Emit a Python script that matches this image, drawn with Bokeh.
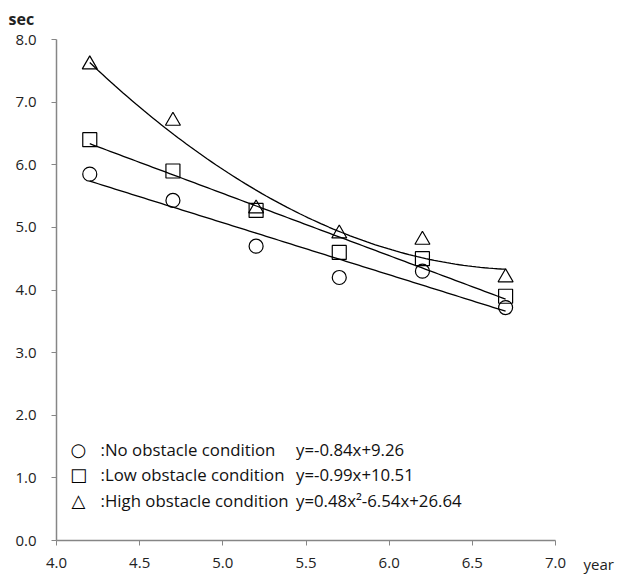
import numpy as np
from bokeh.plotting import figure
from bokeh.models import Range1d, Label, FixedTicker, NumeralTickFormatter
from bokeh.embed import file_html
from bokeh.resources import INLINE

age = [4.2, 4.7, 5.2, 5.7, 6.2, 6.7]
no_obstacle = [5.85, 5.43, 4.70, 4.20, 4.30, 3.72]
low_obstacle = [6.40, 5.90, 5.27, 4.60, 4.50, 3.90]
high_obstacle = [7.60, 6.70, 5.30, 4.90, 4.80, 4.20]
x_ticks = [4.0, 4.5, 5.0, 5.5, 6.0, 6.5, 7.0]
y_ticks = [0, 1, 2, 3, 4, 5, 6, 7, 8]
legend_symbols = ["\u25cb", "\u25a1", "\u25b3"]
legend_names = [":No obstacle condition", ":Low obstacle condition", ":High obstacle condition"]
legend_equations = ["y=-0.84x+9.26", "y=-0.99x+10.51", "y=0.48x\u00b2-6.54x+26.64"]

FONT = "Open Sans"

# The frame covers the whole canvas; axes sit at fixed locations and are bounded to the data area.
W, H = 619, 574
LEFT, TOP, BOTTOM_AXIS = 56.0, 39.0, 540.0
X_PX = 499.0 / 3.0      # pixels per year
Y_PX = 501.0 / 8.0      # pixels per second


def px_x(px):
    return 4.0 + (px - LEFT) / X_PX


def px_y(py):
    return (BOTTOM_AXIS - py) / Y_PX


p = figure(width=W, height=H, output_backend="svg", toolbar_location=None,
           x_range=Range1d(px_x(0), px_x(W)), y_range=Range1d(px_y(H), px_y(0)),
           min_border_left=0, min_border_right=0, min_border_top=0, min_border_bottom=0)
p.outline_line_color = None
p.xgrid.visible = False
p.ygrid.visible = False
p.background_fill_color = "white"
p.border_fill_color = "white"

for ax, ticks, b in ((p.xaxis[0], x_ticks, (4.0, 7.0)), (p.yaxis[0], y_ticks, (0.0, 8.0))):
    ax.ticker = FixedTicker(ticks=ticks)
    ax.formatter = NumeralTickFormatter(format="0.0")
    ax.bounds = b
    ax.axis_line_color = "#868686"
    ax.axis_line_width = 1.5
    ax.major_tick_line_color = "#868686"
    ax.major_tick_in = 0
    ax.major_tick_out = 5
    ax.minor_tick_line_color = None
    ax.major_label_text_font = FONT
    ax.major_label_text_font_size = "15px"
    ax.major_label_text_color = "#222222"
p.xaxis[0].fixed_location = 0.0
p.yaxis[0].fixed_location = 4.0
p.yaxis[0].major_label_standoff = 15
p.xaxis[0].major_label_standoff = 12

# trend lines fitted from the data
xs = np.linspace(age[0], age[-1], 100)
c_no = np.polyfit(age, no_obstacle, 1)
c_low = np.polyfit(age, low_obstacle, 1)
c_high = np.polyfit(age, high_obstacle, 2)
for c in (c_no, c_low, c_high):
    p.line(xs, np.polyval(c, xs), line_color="black", line_width=1.3)

p.scatter(age, no_obstacle, marker="circle", size=14, fill_color=None, line_color="black", line_width=1.2)
p.scatter(age, low_obstacle, marker="square", size=14, fill_color=None, line_color="black", line_width=1.2)
p.scatter(age, high_obstacle, marker="triangle", size=15, fill_color=None, line_color="black", line_width=1.2)

p.add_layout(Label(x=px_x(8), y=px_y(18), text="sec", text_font=FONT, text_font_size="16px",
                   text_font_style="bold", text_color="#222222", text_baseline="middle"))
p.add_layout(Label(x=px_x(583), y=px_y(563), text="year", text_font=FONT,
                   text_font_size="15px", text_color="#222222", text_baseline="middle"))

ys = [1.45, 1.05, 0.64]
for sym, name, eq, yy in zip(legend_symbols, legend_names, legend_equations, ys):
    p.add_layout(Label(x=4.132, y=yy, text=sym, text_font="DejaVu Sans", text_font_size="18px",
                       text_font_style="bold", text_color="black", text_baseline="middle",
                       text_align="center"))
    p.add_layout(Label(x=4.265, y=yy, text=name, text_font=FONT, text_font_size="16.8px",
                       text_color="#111111", text_baseline="middle"))
    p.add_layout(Label(x=5.44, y=yy, text=eq, text_font=FONT, text_font_size="16.8px",
                       text_color="#111111", text_baseline="middle"))

open("out.html", "w").write(file_html(p, INLINE))
